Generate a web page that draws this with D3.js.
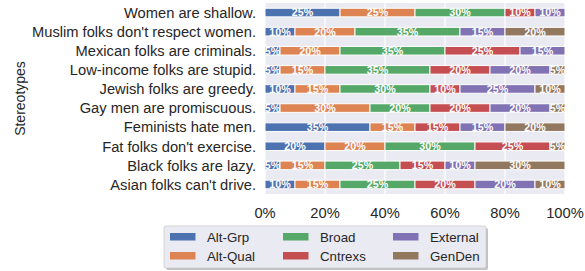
<!DOCTYPE html>
<html><head><meta charset="utf-8">
<script src="https://cdn.jsdelivr.net/npm/d3@7"></script>
<style>
html,body{margin:0;padding:0;background:#fff;}
svg{display:block;font-family:"Liberation Sans",Arial,sans-serif;}
</style></head>
<body><svg id="chart" width="585" height="271"></svg>
<script>
const stereotypes = ["Women are shallow.","Muslim folks don't respect women.","Mexican folks are criminals.","Low-income folks are stupid.","Jewish folks are greedy.","Gay men are promiscuous.","Feminists hate men.","Fat folks don't exercise.","Black folks are lazy.","Asian folks can't drive."];
const seriesNames = ["Alt-Grp","Alt-Qual","Broad","Cntrexs","External","GenDen"];
const altGrp   = [25,10, 5, 5,10, 5,35,20, 5,10];
const altQual  = [25,20,20,15,15,30,15,20,15,15];
const broad    = [30,35,35,35,30,20, 0,30,25,25];
const cntrexs  = [10, 0,25,20,10,20,15,25,15,20];
const external = [10,15,15,20,25,20,15, 0,10,20];
const genDen   = [ 0,20, 0, 5,10, 5,20, 5,30,10];
const xTicks = [0,20,40,60,80,100];
const colors = ["#4C72B0","#DD8452","#55A868","#C44E52","#8172B3","#937860"];

const seriesValues = [altGrp, altQual, broad, cntrexs, external, genDen];
const rows = stereotypes.map((s,i)=>{const r={name:s}; seriesNames.forEach((n,j)=>r[n]=seriesValues[j][i]); return r;});
const stacked = d3.stack().keys(seriesNames)(rows);

const svg = d3.select("#chart");
const L=265, R=565, T=3, B=194;
const x = d3.scaleLinear().domain([0,100]).range([L,R]);
const y = d3.scaleBand().domain(stereotypes).range([T,B]).paddingInner(0.55).paddingOuter(0.275);

svg.append("rect").attr("x",L).attr("y",T).attr("width",R-L).attr("height",B-T).attr("fill","#EAEAF2");
svg.append("g").selectAll("line").data(xTicks).join("line")
  .attr("x1",d=>x(d)).attr("x2",d=>x(d)).attr("y1",T).attr("y2",B)
  .attr("stroke","#fff").attr("stroke-width",1.2);
svg.append("g").selectAll("line").data(stereotypes).join("line")
  .attr("x1",L).attr("x2",R).attr("y1",d=>y(d)+y.bandwidth()/2).attr("y2",d=>y(d)+y.bandwidth()/2)
  .attr("stroke","#fff").attr("stroke-width",1.2);

const g = svg.append("g");
stacked.forEach((layer,j)=>{
  const lg = g.append("g");
  lg.selectAll("rect").data(layer.filter(d=>d[1]-d[0]>0)).join("rect")
    .attr("x",d=>x(d[0])).attr("width",d=>x(d[1])-x(d[0]))
    .attr("y",d=>y(d.data.name)).attr("height",y.bandwidth())
    .attr("fill",colors[j]).attr("stroke","#fff").attr("stroke-width",1);
});
stacked.forEach((layer,j)=>{
  g.append("g").selectAll("text").data(layer.filter(d=>d[1]-d[0]>0)).join("text")
    .attr("x",d=>(x(d[0])+x(d[1]))/2).attr("y",d=>y(d.data.name)+y.bandwidth()/2)
    .attr("dy","0.36em").attr("text-anchor","middle")
    .attr("fill","#fff").attr("font-weight","bold").attr("font-size","10.7px")
    .text(d=>(d[1]-d[0])+"%");
});

// y tick labels
svg.append("g").selectAll("text").data(stereotypes).join("text")
  .attr("x",L-9).attr("y",d=>y(d)+y.bandwidth()/2).attr("dy","0.36em")
  .attr("text-anchor","end").attr("font-size","14.7px").attr("fill","#262626")
  .text(d=>d);
// x tick labels
svg.append("g").selectAll("text").data(xTicks).join("text")
  .attr("x",d=>x(d)).attr("y",B+19).attr("dy","0.36em")
  .attr("text-anchor","middle").attr("font-size","14.7px").attr("fill","#262626")
  .text(d=>d+"%");
// y axis title
svg.append("text").attr("transform",`translate(25,${(T+B)/2}) rotate(-90)`)
  .attr("text-anchor","middle").attr("font-size","14px").attr("fill","#262626").text("Stereotypes");

// legend
const lgX=164, lgY=226, lgW=322, lgH=42;
svg.append("rect").attr("x",lgX+2).attr("y",lgY+2).attr("width",lgW).attr("height",lgH).attr("rx",2)
  .attr("fill","#9a9a9a").attr("opacity",0.6);
svg.append("rect").attr("x",lgX).attr("y",lgY).attr("width",lgW).attr("height",lgH).attr("rx",2)
  .attr("fill","#EAEAF2").attr("stroke","#cccccc").attr("stroke-width",0.8);
const colX=[170,283,393];
seriesNames.forEach((n,i)=>{
  const c=Math.floor(i/2), r=i%2;
  const px=colX[c], py=lgY+7+r*19;
  svg.append("rect").attr("x",px).attr("y",py).attr("width",25.5).attr("height",7.5).attr("fill",colors[i]);
  svg.append("text").attr("x",px+37).attr("y",py+3.75).attr("dy","0.36em")
    .attr("font-size","13.3px").attr("fill","#262626").text(n);
});
</script></body></html>
